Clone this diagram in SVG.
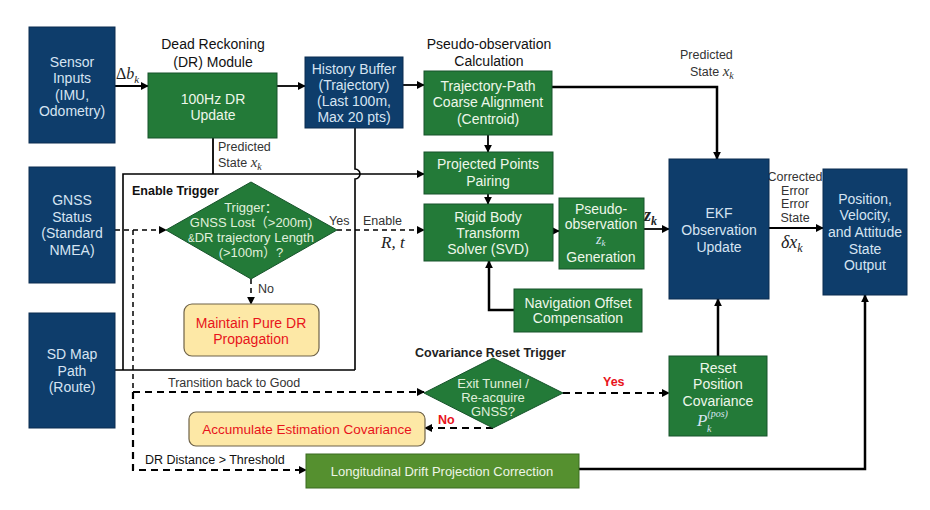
<svg xmlns="http://www.w3.org/2000/svg" width="930" height="510" viewBox="0 0 930 510">
<defs>
<marker id="ah" viewBox="0 0 10 10" refX="9" refY="5" markerWidth="8" markerHeight="8" markerUnits="userSpaceOnUse" orient="auto"><path d="M0,0 L10,5 L0,10 z" fill="#000"/></marker>
<style>
.navy{fill:#0e3d6b;stroke:#0a2c50;stroke-width:1}
.green{fill:#237a38;stroke:#16532a;stroke-width:1}
.olive{fill:#55902f;stroke:#3b6a20;stroke-width:1}
.yellow{fill:#fde8a6;stroke:#6e6248;stroke-width:1.2}
.t{font-family:"Liberation Sans",Arial,"Noto Sans CJK SC",sans-serif;text-anchor:middle}
.tb{font-size:14px;fill:#d6e4f2}
.tg{font-size:14px;fill:#eef7ea}
.tk{font-size:14px;fill:#111}
.red{fill:#e8141b}
.lab{font-family:"Liberation Sans",Arial,sans-serif;font-size:12.5px;fill:#333}
.bold{font-weight:bold}
.m{font-family:"Liberation Serif","DejaVu Serif",serif;font-style:italic}
.ln{fill:none;stroke:#000;stroke-width:1.8}
.thk{stroke-width:2.5}
.thin{fill:none;stroke:#000;stroke-width:1.5;stroke-dasharray:5 4}
.dash{fill:none;stroke:#000;stroke-width:2.2;stroke-dasharray:7 5}
</style>
</defs>
<rect width="930" height="510" fill="#fff"/>

<g id="connectors">
<path class="ln" d="M115,86 H148" marker-end="url(#ah)"/>
<path class="ln" d="M277,86 H305" marker-end="url(#ah)"/>
<path class="ln" d="M403,85 H424" marker-end="url(#ah)"/>
<path class="ln" d="M488,135 V152" marker-end="url(#ah)"/>
<path class="ln" d="M488,194 V204" marker-end="url(#ah)"/>
<path class="ln" d="M553,231 H559" marker-end="url(#ah)"/>
<path class="ln" d="M644,229 H669" marker-end="url(#ah)"/>
<path class="ln thk" d="M552,87 H717 V159" marker-end="url(#ah)"/>
<path class="ln" d="M769,228 H823" marker-end="url(#ah)"/>
<path class="ln thk" d="M514,310 H489 V261" marker-end="url(#ah)"/>
<path class="ln thk" d="M718,356 V299" marker-end="url(#ah)"/>
<path class="ln thk" d="M579,469 H865 V295" marker-end="url(#ah)"/>
<path class="ln" d="M213,138 V174"/>
<path class="ln" style="stroke-width:1.6" d="M123,370 V174 H424" marker-end="url(#ah)"/>
<path class="ln" style="stroke-width:1.6" d="M115,370 H355"/>
<path class="ln" style="stroke-width:1.6" d="M355,128 V169 A5,5 0 0 1 355,179 V370"/>
<path class="thin" d="M115,230 H166" marker-end="url(#ah)"/>
<path class="thin" d="M337,230 H424" marker-end="url(#ah)"/>
<path class="thin" d="M251,279 V304" marker-end="url(#ah)"/>
<path class="thin" d="M133,230 V392"/>
<path class="dash" d="M133,392 H424" marker-end="url(#ah)"/>
<path class="dash" d="M133,392 V470 H306" marker-end="url(#ah)"/>
<path class="dash" d="M563,393 H669" marker-end="url(#ah)"/>
<path class="dash" d="M493,428 H425" marker-end="url(#ah)"/>

<text class="m" x="116" y="79" font-size="16" fill="#222"><tspan font-style="normal">Δ</tspan>b<tspan font-size="11" dy="4">k</tspan></text>
<text class="lab" x="218" y="151">Predicted</text>
<text class="lab" x="218" y="167">State <tspan class="m" font-size="15">x</tspan><tspan class="m" font-size="10" dy="3">k</tspan></text>
<text class="lab" x="680" y="59">Predicted</text>
<text class="lab" x="690" y="76">State <tspan class="m" font-size="15">x</tspan><tspan class="m" font-size="10" dy="3">k</tspan></text>
<text class="lab" x="795" y="181" text-anchor="middle" font-size="12">Corrected</text>
<text class="lab" x="795" y="195" text-anchor="middle" font-size="12">Error</text>
<text class="lab" x="795" y="208" text-anchor="middle" font-size="12">Error</text>
<text class="lab" x="795" y="222" text-anchor="middle" font-size="12">State</text>
<text class="m" x="781" y="248" font-size="18" fill="#222">δx<tspan font-size="12" dy="4">k</tspan></text>
<text class="m bold" x="644" y="221" font-size="18" fill="#222">z<tspan font-size="12" dy="4">k</tspan></text>
<text class="lab" x="329" y="225" font-size="13">Yes</text>
<text class="lab" x="363" y="225" font-size="13">Enable</text>
<text class="m" x="381" y="248" font-size="17" fill="#222">R, t</text>
<text class="lab" x="258" y="293" font-size="13">No</text>
<text class="lab" x="168" y="387" font-size="13">Transition back to Good</text>
<text class="lab" x="145" y="464" font-size="13.5" style="fill:#111">DR Distance &gt; Threshold</text>
<text class="lab bold" x="603" y="386" font-size="14" style="fill:#e8141b">Yes</text>
<text class="lab bold" x="438" y="424" font-size="14" style="fill:#e8141b">No</text>
</g>

<g id="sensor">
<rect class="navy" x="29" y="27" width="86" height="116"/>
<text class="t tb" x="72" y="67">Sensor</text>
<text class="t tb" x="72" y="83">Inputs</text>
<text class="t tb" x="72" y="100">(IMU,</text>
<text class="t tb" x="72" y="116">Odometry)</text>
</g>

<g id="dr">
<text class="t tk" x="213" y="49">Dead Reckoning</text>
<text class="t tk" x="213" y="67">(DR) Module</text>
<rect class="green" x="148" y="73" width="129" height="65"/>
<text class="t tg" x="213" y="104">100Hz DR</text>
<text class="t tg" x="213" y="120">Update</text>
</g>

<g id="history">
<rect class="navy" x="305" y="57" width="98" height="71"/>
<text class="t tb" x="354" y="74">History Buffer</text>
<text class="t tb" x="354" y="90">(Trajectory)</text>
<text class="t tb" x="354" y="106">(Last 100m,</text>
<text class="t tb" x="354" y="122">Max 20 pts)</text>
</g>

<g id="traj">
<text class="t tk" x="489" y="49">Pseudo-observation</text>
<text class="t tk" x="489" y="66">Calculation</text>
<rect class="green" x="424" y="71" width="128" height="64"/>
<text class="t tg" x="488" y="91">Trajectory-Path</text>
<text class="t tg" x="488" y="107">Coarse Alignment</text>
<text class="t tg" x="488" y="124">(Centroid)</text>
</g>

<g id="proj">
<rect class="green" x="424" y="152" width="129" height="42"/>
<text class="t tg" x="488" y="169">Projected Points</text>
<text class="t tg" x="488" y="186">Pairing</text>
</g>

<g id="rigid">
<rect class="green" x="424" y="204" width="129" height="57"/>
<text class="t tg" x="488" y="222">Rigid Body</text>
<text class="t tg" x="488" y="238">Transform</text>
<text class="t tg" x="488" y="254">Solver (SVD)</text>
</g>

<g id="pseudo">
<rect class="green" x="559" y="198" width="85" height="71"/>
<text class="t tg" x="601" y="214" font-size="13">Pseudo-</text>
<text class="t tg" x="601" y="229" font-size="13">observation</text>
<text class="m" x="596" y="244" font-size="14" fill="#d6e4f2">z<tspan font-size="9" dy="2">k</tspan></text>
<text class="t tg" x="601" y="262" font-size="13">Generation</text>
</g>

<g id="nav">
<rect class="green" x="514" y="289" width="128" height="43"/>
<text class="t tg" x="578" y="308">Navigation Offset</text>
<text class="t tg" x="578" y="323">Compensation</text>
</g>

<g id="ekf">
<rect class="navy" x="669" y="159" width="100" height="140"/>
<text class="t tb" x="719" y="218" font-size="15">EKF</text>
<text class="t tb" x="719" y="235" font-size="15">Observation</text>
<text class="t tb" x="719" y="252" font-size="15">Update</text>
</g>

<g id="output">
<rect class="navy" x="823" y="169" width="84" height="126"/>
<text class="t tb" x="865" y="204" font-size="15">Position,</text>
<text class="t tb" x="865" y="220" font-size="15">Velocity,</text>
<text class="t tb" x="865" y="237" font-size="15">and Attitude</text>
<text class="t tb" x="865" y="254" font-size="15">State</text>
<text class="t tb" x="865" y="270" font-size="15">Output</text>
</g>

<g id="gnss">
<rect class="navy" x="29" y="167" width="86" height="116"/>
<text class="t tb" x="72" y="205">GNSS</text>
<text class="t tb" x="72" y="222">Status</text>
<text class="t tb" x="72" y="238">(Standard</text>
<text class="t tb" x="72" y="255">NMEA)</text>
</g>

<g id="sdmap">
<rect class="navy" x="29" y="313" width="86" height="115"/>
<text class="t tb" x="72" y="359">SD Map</text>
<text class="t tb" x="72" y="376">Path</text>
<text class="t tb" x="72" y="392">(Route)</text>
</g>

<g id="enable-trigger">
<text class="lab bold" x="132" y="195" font-size="12.5" style="fill:#111">Enable Trigger</text>
<polygon class="green" points="166,230 251,182 337,230 251,279"/>
<text class="t" x="251" y="212" font-size="13" fill="#e0f0dc">Trigger：</text>
<text class="t" x="251" y="227" font-size="13" fill="#e0f0dc">GNSS Lost（&gt;200m)</text>
<text class="t" x="251" y="242" font-size="13" fill="#e0f0dc"><tspan font-size="10">&amp;</tspan>DR trajectory Length</text>
<text class="t" x="251" y="257" font-size="13" fill="#e0f0dc">(&gt;100m）?</text>
</g>

<g id="maintain">
<rect class="yellow" x="184" y="304" width="135" height="52" rx="8"/>
<text class="t red" x="251" y="328" font-size="14">Maintain Pure DR</text>
<text class="t red" x="251" y="344" font-size="14">Propagation</text>
</g>

<g id="cov-trigger">
<text class="lab bold" x="415" y="357" font-size="14" style="fill:#222">Covariance Reset Trigger</text>
<polygon class="green" points="424,393 493,358 563,393 493,428"/>
<text class="t" x="493" y="388" font-size="13" fill="#e0f0dc">Exit Tunnel /</text>
<text class="t" x="493" y="402" font-size="13" fill="#e0f0dc">Re-acquire</text>
<text class="t" x="493" y="416" font-size="13" fill="#e0f0dc">GNSS?</text>
</g>

<g id="accumulate">
<rect class="yellow" x="189" y="412" width="236" height="34" rx="7"/>
<text class="t red" x="307" y="434" font-size="13.5">Accumulate Estimation Covariance</text>
</g>

<g id="reset">
<rect class="green" x="669" y="356" width="98" height="80"/>
<text class="t tg" x="718" y="373">Reset</text>
<text class="t tg" x="718" y="389">Position</text>
<text class="t tg" x="718" y="406">Covariance</text>
<text class="m" x="697" y="426" font-size="17" fill="#d6e4f2">P<tspan font-size="10" dx="0" dy="-9">(pos)</tspan></text>
<text class="m" x="707" y="432" font-size="10" fill="#d6e4f2">k</text>
</g>

<g id="longitudinal">
<rect class="olive" x="306" y="454" width="273" height="34"/>
<text class="t" x="442" y="476" font-size="13" fill="#eef5e6">Longitudinal Drift Projection Correction</text>
</g>
</svg>
